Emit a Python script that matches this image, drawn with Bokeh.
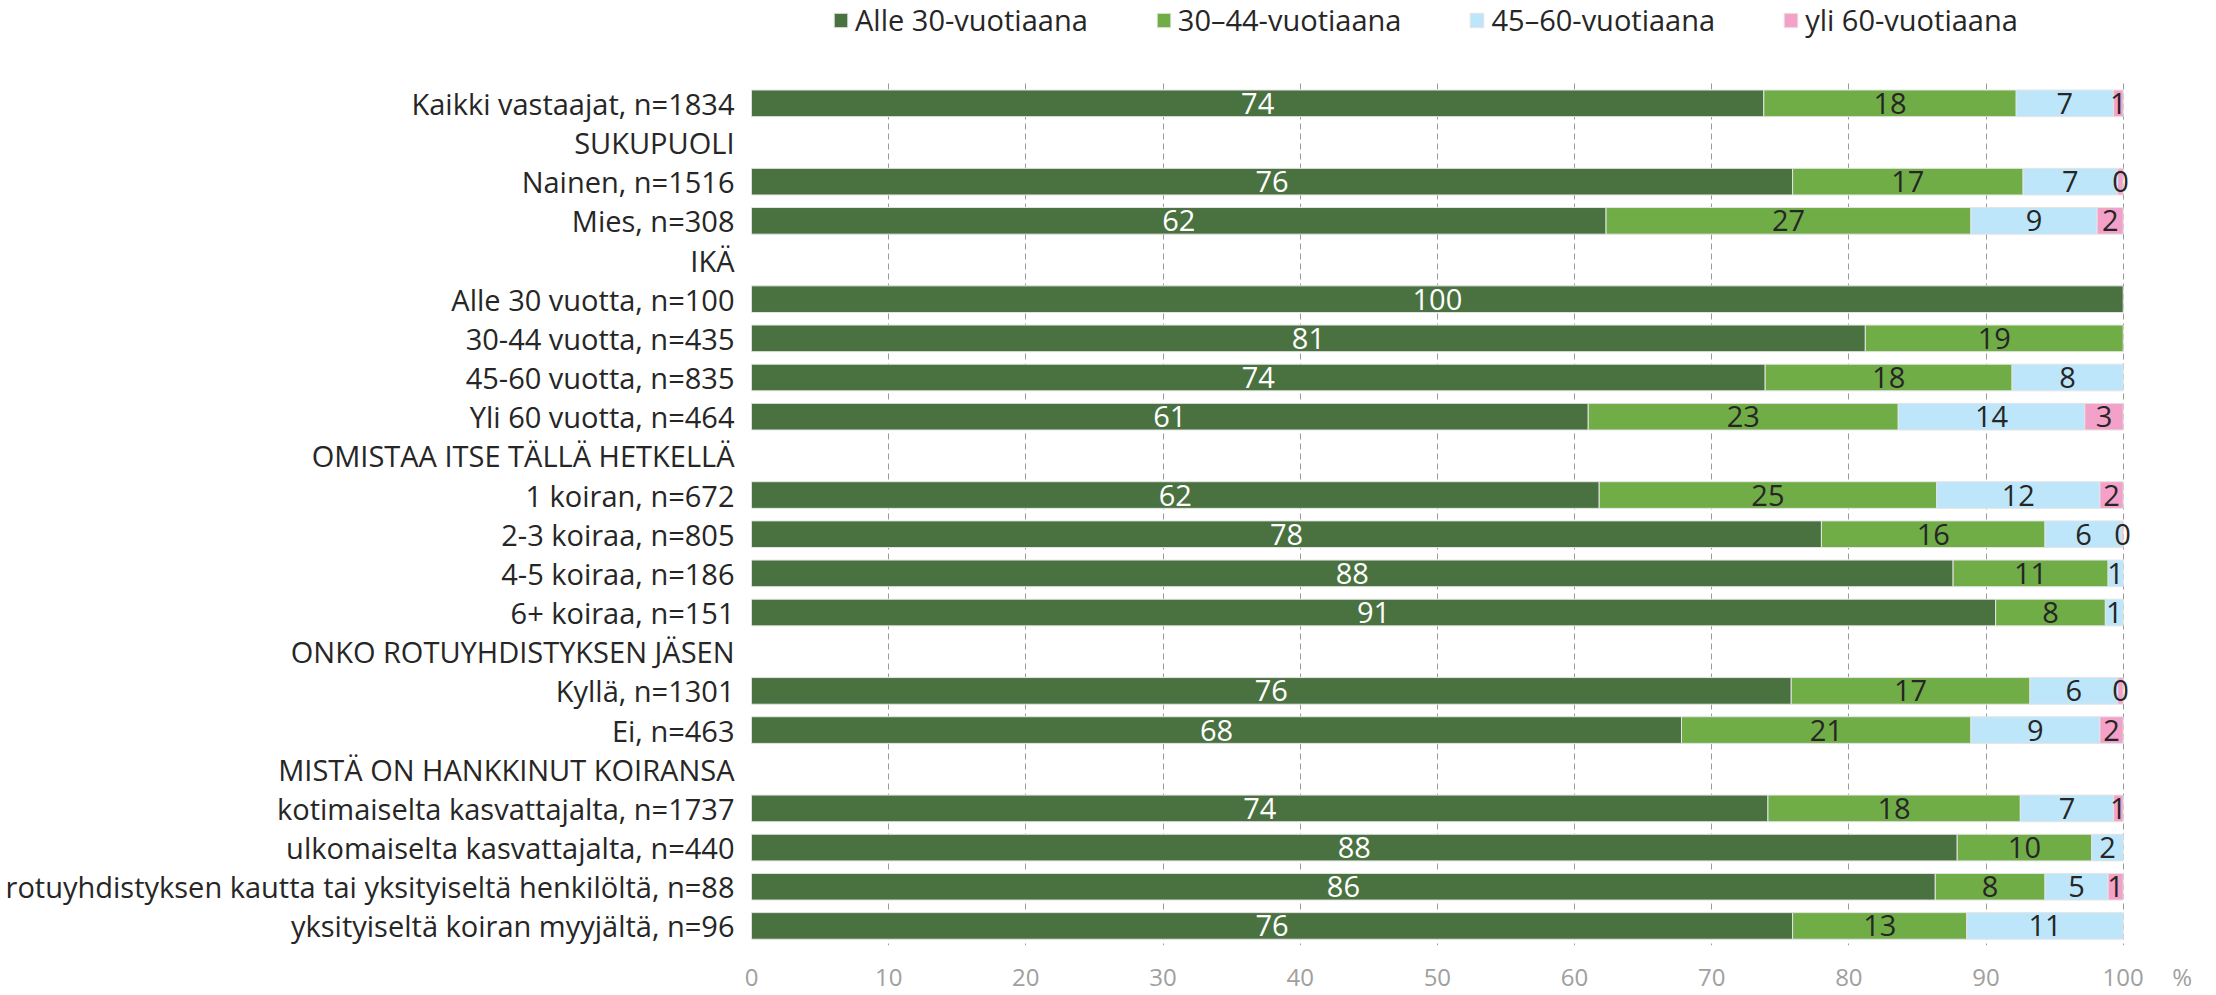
from bokeh.plotting import figure
from bokeh.models import ColumnDataSource, Range1d, FixedTicker, Legend, LegendItem
from bokeh.embed import file_html
from bokeh.resources import INLINE
from bokeh.core.properties import value

categories = [
    "Kaikki vastaajat, n=1834", "SUKUPUOLI", "Nainen, n=1516", "Mies, n=308", "IKÄ",
    "Alle 30 vuotta, n=100", "30-44 vuotta, n=435", "45-60 vuotta, n=835", "Yli 60 vuotta, n=464",
    "OMISTAA ITSE TÄLLÄ HETKELLÄ", "1 koiran, n=672", "2-3 koiraa, n=805", "4-5 koiraa, n=186",
    "6+ koiraa, n=151", "ONKO ROTUYHDISTYKSEN JÄSEN", "Kyllä, n=1301", "Ei, n=463",
    "MISTÄ ON HANKKINUT KOIRANSA", "kotimaiselta kasvattajalta, n=1737",
    "ulkomaiselta kasvattajalta, n=440",
    "rotuyhdistyksen kautta tai yksityiseltä henkilöltä, n=88",
    "yksityiseltä koiran myyjältä, n=96",
]
series_names = ["Alle 30-vuotiaana", "30–44-vuotiaana", "45–60-vuotiaana", "yli 60-vuotiaana"]
under30 = [73.8, None, 75.9, 62.3, None, 100.0, 81.2, 73.9, 61.0, None, 61.8, 78.0, 87.6, 90.7,
           None, 75.8, 67.8, None, 74.1, 87.9, 86.3, 75.9]
age30_44 = [18.4, None, 16.8, 26.6, None, 0.0, 18.8, 18.0, 22.6, None, 24.6, 16.3, 11.3, 8.0,
            None, 17.4, 21.1, None, 18.4, 9.8, 8.0, 12.7]
age45_60 = [7.1, None, 6.9, 9.2, None, 0.0, 0.0, 8.1, 13.6, None, 11.9, 5.6, 1.1, 1.3,
            None, 6.4, 9.4, None, 6.8, 2.3, 4.6, 11.4]
over60 = [0.7, None, 0.4, 1.9, None, 0.0, 0.0, 0.0, 2.8, None, 1.7, 0.1, 0.0, 0.0,
          None, 0.4, 1.7, None, 0.7, 0.0, 1.1, 0.0]
x_ticks = [0, 10, 20, 30, 40, 50, 60, 70, 80, 90, 100]
unit_tick = 104.3
unit_label = "%"

colors = ["#4A7140", "#70AD47", "#BDE6FA", "#F3A1C8"]
label_colors = ["white", "#262626", "#262626", "#262626"]
FONT = "Open Sans"

n_rows = len(categories)
rows = list(range(n_rows))
legend_space = 2.125  # rows of room above the bars for the legend

p = figure(width=2212, height=995,
           y_range=Range1d(start=n_rows - 0.5, end=-0.5 - legend_space),
           x_range=Range1d(0, 106),
           output_backend="svg", toolbar_location=None,
           min_border_left=751, min_border_right=7, min_border_top=0, min_border_bottom=47)
p.outline_line_color = None
p.background_fill_color = "white"

p.ygrid.grid_line_color = None
p.xgrid.ticker = FixedTicker(ticks=x_ticks)
p.xgrid.grid_line_color = "#9A9A9A"
p.xgrid.grid_line_dash = "6 4"
p.xgrid.grid_line_width = 1
grid = p.xgrid[0]
if "cross_bounds" in grid.properties():
    grid.cross_bounds = (-0.5, n_rows - 0.5)
else:
    p.xgrid.grid_line_color = None
    p.segment(x0=x_ticks, x1=x_ticks, y0=[-0.5] * len(x_ticks),
              y1=[n_rows - 0.5] * len(x_ticks), line_color="#9A9A9A",
              line_dash="6 4", line_width=1, level="underlay")

p.yaxis.ticker = FixedTicker(ticks=rows)
p.yaxis.major_label_overrides = {i: c for i, c in zip(rows, categories)}
p.yaxis.axis_line_color = None
p.yaxis.major_tick_line_color = None
p.yaxis.minor_tick_line_color = None
p.yaxis.major_tick_out = 0
p.yaxis.major_label_standoff = 17
p.yaxis.major_label_text_font = FONT
p.yaxis.major_label_text_font_size = "29px"
p.yaxis.major_label_text_color = "#262626"

p.xaxis.ticker = FixedTicker(ticks=x_ticks + [unit_tick])
p.xaxis.major_label_overrides = {unit_tick: unit_label}
p.xaxis.axis_line_color = None
p.xaxis.major_tick_line_color = None
p.xaxis.minor_tick_line_color = None
p.xaxis.major_tick_out = 0
p.xaxis.major_label_standoff = 14
p.xaxis.major_label_text_font = FONT
p.xaxis.major_label_text_font_size = "24px"
p.xaxis.major_label_text_color = "#A0A0A0"

series = [under30, age30_44, age45_60, over60]
cum = [0.0 if v is not None else None for v in under30]
items = []
lab_x, lab_y, lab_t, lab_c = [], [], [], []
for si, vals in enumerate(series):
    ys, lefts, rights = [], [], []
    for ci, v in enumerate(vals):
        if v is None:
            continue
        left = cum[ci]
        right = left + v
        cum[ci] = right
        if v > 0:
            ys.append(rows[ci])
            lefts.append(left)
            rights.append(right)
            lab_x.append((left + right) / 2)
            lab_y.append(rows[ci])
            lab_t.append(f"{v:.0f}")
            lab_c.append(label_colors[si])
    src = ColumnDataSource(dict(y=ys, left=lefts, right=rights))
    r = p.hbar(y="y", left="left", right="right", height=0.68, source=src,
               fill_color=colors[si], line_color="#E4E4E4", line_width=1)
    items.append(LegendItem(label=series_names[si], renderers=[r]))

lsrc = ColumnDataSource(dict(x=lab_x, y=lab_y, t=lab_t, c=lab_c))
p.text(x="x", y="y", text="t", source=lsrc, text_color="c",
       text_align="center", text_baseline="middle",
       text_font=value(FONT), text_font_size="29px")

legend = Legend(items=items, orientation="horizontal", location=(81, 906),
                glyph_width=17, glyph_height=18, label_standoff=6, spacing=67,
                padding=0, margin=0, border_line_color=None, background_fill_alpha=0,
                label_text_font=FONT, label_text_font_size="29px",
                label_text_color="#262626")
p.add_layout(legend, "center")

open("out.html", "w").write(file_html(p, INLINE))
